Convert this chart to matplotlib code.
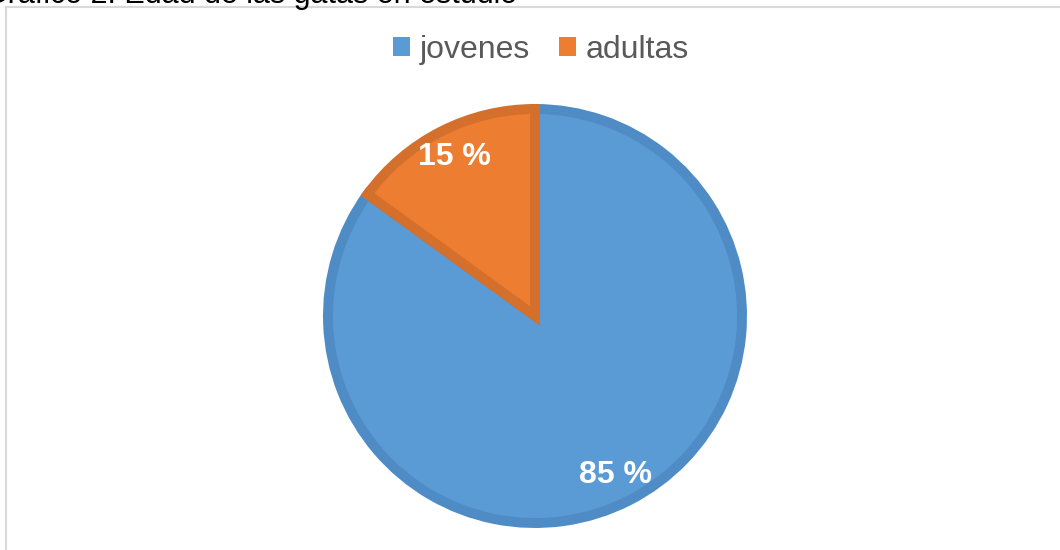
import matplotlib
matplotlib.use("Agg")
from matplotlib import pyplot
from matplotlib.patches import Rectangle

# data
categorias = ["jovenes", "adultas"]
valores = [85, 15]
colores = ["#5B9BD5", "#ED7D31"]
bordes = ["#4F8CC6", "#D4702C"]
titulo = "Gráfico 2. Edad de las gatas en estudio"

W, H = 1060, 550
fig = pyplot.figure(figsize=(W / 100, H / 100), dpi=100)
pyplot.rcParams['font.family'] = ['Liberation Sans', 'DejaVu Sans']

# marco del grafico
fig.patches.append(Rectangle((6 / W, -0.1), 1.2, 1 - 7 / H + 0.1, transform=fig.transFigure,
                             fill=False, edgecolor="#D9D9D9", linewidth=1.5))

# titulo (cortado en la parte superior)
fig.text(-16 / W, 1 - 3 / H, titulo, fontsize=22, color="black", va="baseline", ha="left")

# pie
cx, cy, r = 535, 316, 212
ax = fig.add_axes([(cx - r) / W, (H - cy - r) / H, 2 * r / W, 2 * r / H])
lw_px = 10
wedges, textos, autotextos = ax.pie(
    valores, colors=colores, startangle=90, counterclock=False,
    radius=1 - (lw_px / 2) / r,
    autopct=lambda p: f"{p:.0f} %", pctdistance=0.84 / (1 - (lw_px / 2) / r),
    wedgeprops=dict(linewidth=lw_px * 0.72, joinstyle="miter"),
    textprops=dict(color="white", fontsize=23, fontweight="bold"))
for w, b in zip(wedges, bordes):
    w.set_edgecolor(b)
ax.set_xlim(-1, 1)
ax.set_ylim(-1, 1)
ax.set_aspect("equal")
ax.axis("off")

# leyenda
leg = fig.legend(wedges, categorias, loc="center", bbox_to_anchor=(541 / W, 1 - 50 / H),
                 ncol=2, frameon=False, fontsize=23, handlelength=0.55, handleheight=0.55,
                 handletextpad=0.3, columnspacing=0.9, labelcolor="#595959")
for h in leg.legend_handles:
    h.set_linewidth(0)

fig.savefig("out.png", dpi=100)
